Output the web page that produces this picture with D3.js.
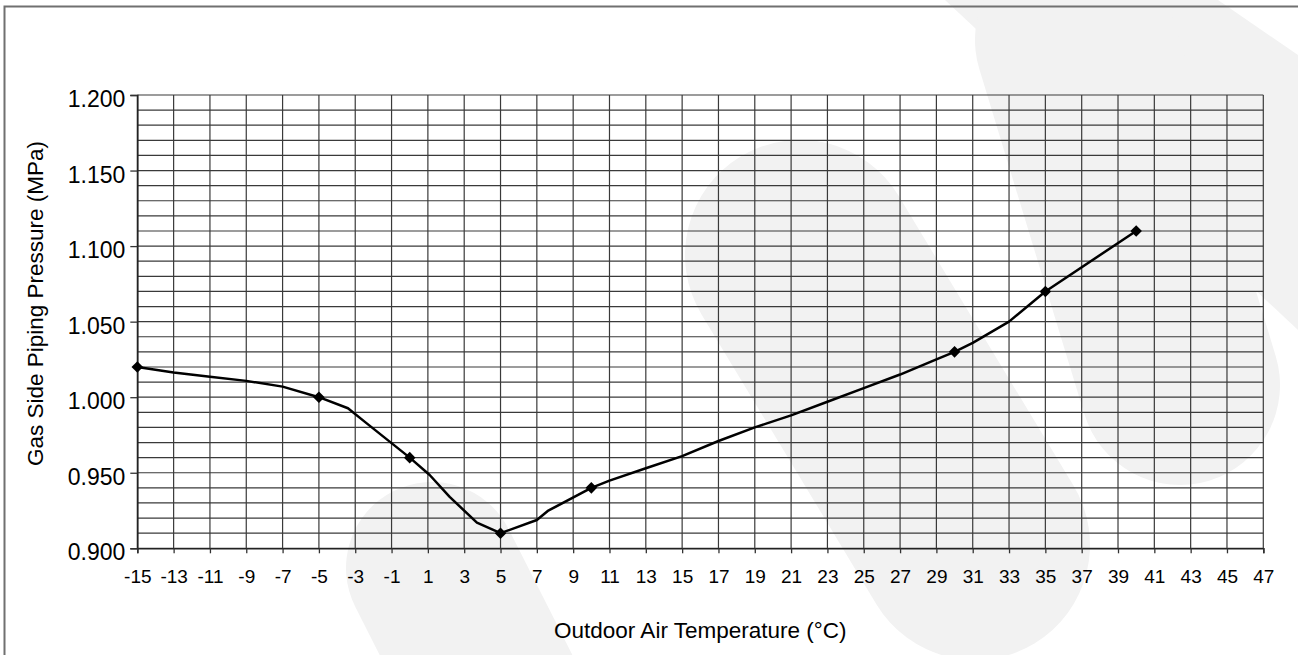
<!DOCTYPE html>
<html><head><meta charset="utf-8">
<script src="https://cdn.jsdelivr.net/npm/d3@7"></script>
<style>html,body{margin:0;padding:0;background:#fff;overflow:hidden}</style>
</head><body><svg id="c" width="1298" height="655"></svg>
<script>
// ---- data ----
const markerTemps = [-15, -5, 0, 5, 10, 30, 35, 40];
const markerPressures = [1.020, 1.000, 0.960, 0.910, 0.940, 1.030, 1.070, 1.110];
// curve
const lineTemps = [-15, -13, -11, -9, -7, -5, -3.4, -2.4, 0, 1.1, 2.2, 3.7, 5, 7, 7.6, 10, 11, 13, 15, 17, 19, 21, 23, 25, 27, 29, 30, 31, 33, 35, 40];
const linePressures = [1.020, 1.0163, 1.0136, 1.0108, 1.007, 1.000, 0.9927, 0.983, 0.960, 0.9485, 0.934, 0.917, 0.910, 0.9187, 0.9247, 0.940, 0.9448, 0.953, 0.961, 0.971, 0.980, 0.988, 0.997, 1.006, 1.015, 1.025, 1.030, 1.036, 1.050, 1.070, 1.110];
const xTickValues = [-15, -13, -11, -9, -7, -5, -3, -1, 1, 3, 5, 7, 9, 11, 13, 15, 17, 19, 21, 23, 25, 27, 29, 31, 33, 35, 37, 39, 41, 43, 45, 47];
const xTickLabels = ["-15", "-13", "-11", "-9", "-7", "-5", "-3", "-1", "1", "3", "5", "7", "9", "11", "13", "15", "17", "19", "21", "23", "25", "27", "29", "31", "33", "35", "37", "39", "41", "43", "45", "47"];
const yTickValues = [0.900, 0.950, 1.000, 1.050, 1.100, 1.150, 1.200];
const yTickLabels = ["0.900", "0.950", "1.000", "1.050", "1.100", "1.150", "1.200"];
const yGridValues = [0.90, 0.91, 0.92, 0.93, 0.94, 0.95, 0.96, 0.97, 0.98, 0.99, 1.00, 1.01, 1.02, 1.03, 1.04, 1.05, 1.06, 1.07, 1.08, 1.09, 1.10, 1.11, 1.12, 1.13, 1.14, 1.15, 1.16, 1.17, 1.18, 1.19, 1.20];
const xTitle = "Outdoor Air Temperature (°C)";
const yTitle = "Gas Side Piping Pressure (MPa)";

// ---- layout ----
const W = 1298, H = 655;
const L = 137.3, R = 1263.3, T = 95, B = 548.3;
const FONT = "'Liberation Sans', Arial, sans-serif";

const svg = d3.select("#c");

// background watermark shapes
const wm = svg.append("g").attr("fill", "#f2f2f2").attr("stroke", "#f2f2f2").attr("stroke-linecap", "round");
wm.append("path").attr("d", "M945,0 L1218,0 L1298,55 L1298,330 Z").attr("stroke", "none");
wm.append("line").attr("x1", 1075).attr("y1", 40).attr("x2", 1180).attr("y2", 385).attr("stroke-width", 200);
wm.append("line").attr("x1", 800).attr("y1", 255).attr("x2", 975).attr("y2", 545).attr("stroke-width", 230);
wm.append("line").attr("x1", 432).attr("y1", 568).attr("x2", 600).attr("y2", 900).attr("stroke-width", 172);

// outer border
svg.append("rect").attr("x", 4.5).attr("y", 6.5).attr("width", W + 20).attr("height", H + 20)
  .attr("fill", "none").attr("stroke", "#707070").attr("stroke-width", 2);

const x = d3.scaleLinear().domain([-15, 47]).range([L, R]);
const y = d3.scaleLinear().domain([0.9, 1.2]).range([B, T]);

// grid
const grid = svg.append("g").attr("stroke", "#3a3a3a").attr("stroke-width", 1.2);
grid.selectAll("line.h").data(yGridValues).join("line").attr("class", "h")
  .attr("x1", L).attr("x2", R).attr("y1", d => y(d)).attr("y2", d => y(d));
grid.selectAll("line.v").data(xTickValues).join("line").attr("class", "v")
  .attr("y1", T).attr("y2", B).attr("x1", d => x(d)).attr("x2", d => x(d));

// axes
const yAxis = svg.append("g").attr("transform", `translate(${L},0)`)
  .call(d3.axisLeft(y).tickValues(yTickValues).tickSize(7).tickPadding(5)
    .tickFormat((d, i) => yTickLabels[i]));
yAxis.select(".domain").attr("stroke", "#222").attr("stroke-width", 1.6);
yAxis.selectAll(".tick line").attr("stroke", "#333").attr("stroke-width", 1.3);
yAxis.selectAll("text").attr("font-family", FONT).attr("font-size", 23).attr("fill", "#000").attr("dy", "0.5em");

const xAxis = svg.append("g").attr("transform", `translate(0,${B})`)
  .call(d3.axisBottom(x).tickValues(xTickValues).tickSize(5).tickPadding(0)
    .tickFormat((d, i) => xTickLabels[i]));
xAxis.select(".domain").attr("stroke", "#222").attr("stroke-width", 1.6);
xAxis.selectAll(".tick line").attr("stroke", "#333").attr("stroke-width", 1.3);
xAxis.selectAll("text").attr("font-family", FONT).attr("font-size", 19).attr("fill", "#000")
  .attr("y", 34.4).attr("dy", 0);

// titles
svg.append("text").attr("x", (L + R) / 2).attr("y", 638).attr("text-anchor", "middle")
  .attr("font-family", FONT).attr("font-size", 22.5).attr("fill", "#000").text(xTitle);
svg.append("text").attr("transform", `translate(43,303.5) rotate(-90)`).attr("text-anchor", "middle")
  .attr("font-family", FONT).attr("font-size", 22.5).attr("fill", "#000").text(yTitle);

// line
const pts = lineTemps.map((t, i) => [t, linePressures[i]]);
const line = d3.line().x(d => x(d[0])).y(d => y(d[1])).curve(d3.curveLinear);
svg.append("path").datum(pts).attr("d", line).attr("fill", "none").attr("stroke", "#000").attr("stroke-width", 2.5)
  .attr("stroke-linejoin", "round");

// markers
const mk = markerTemps.map((t, i) => [t, markerPressures[i]]);
svg.selectAll("path.m").data(mk).join("path").attr("class", "m")
  .attr("d", d3.symbol().type(d3.symbolDiamond2).size(85))
  .attr("transform", d => `translate(${x(d[0])},${y(d[1])})`)
  .attr("fill", "#000");
</script></body></html>
